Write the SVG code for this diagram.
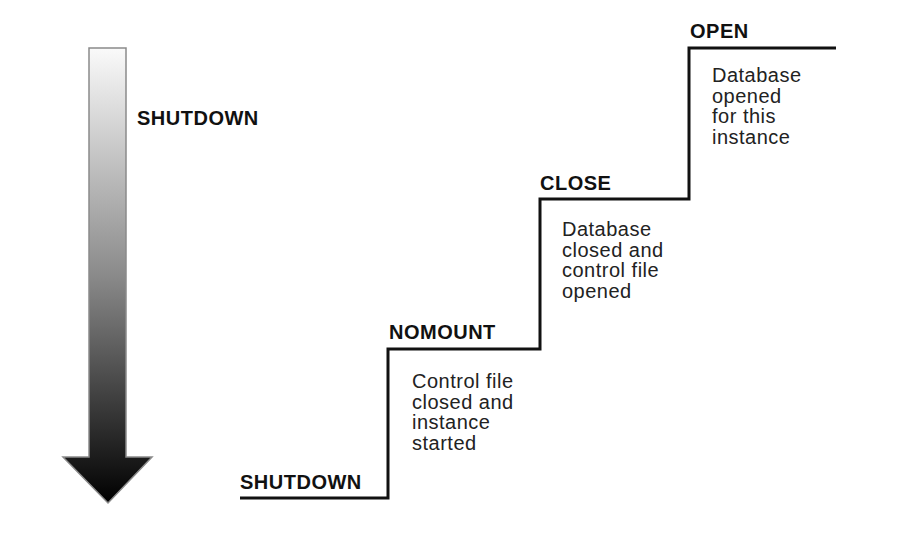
<svg xmlns="http://www.w3.org/2000/svg" width="898" height="542" viewBox="0 0 898 542">
<defs>
<linearGradient id="g" x1="0" y1="0" x2="0" y2="1">
<stop offset="0" stop-color="#fafafa"/>
<stop offset="0.5" stop-color="#8a8a8a"/>
<stop offset="1" stop-color="#000"/>
</linearGradient>
<style>
.lbl{font-family:"Liberation Sans",Arial,sans-serif;font-weight:bold;font-size:20px;letter-spacing:0.5px;fill:#111}
.dsc{font-family:"Liberation Sans",Arial,sans-serif;font-size:20px;letter-spacing:0.5px;fill:#222}
.step{fill:none;stroke:#111;stroke-width:3}
</style>
</defs>
<rect width="898" height="542" fill="#fff"/>
<g id="arrow">
<polygon points="89,48 126,48 126,457 152,457 108,503 63,457 89,457" fill="url(#g)" stroke="#8a8a8a" stroke-width="1.5"/>
<text class="lbl" x="137" y="125">SHUTDOWN</text>
</g>
<g id="connectors">
<polyline class="step" points="240,498 388,498 388,349 540,349 540,199 689,199 689,48 836,48"/>
</g>
<g id="shutdown">
<text class="lbl" x="240" y="489">SHUTDOWN</text>
</g>
<g id="nomount">
<text class="lbl" x="389" y="339">NOMOUNT</text>
<text class="dsc" x="412" y="388">Control file</text>
<text class="dsc" x="412" y="408.5">closed and</text>
<text class="dsc" x="412" y="429">instance</text>
<text class="dsc" x="412" y="449.5">started</text>
</g>
<g id="close">
<text class="lbl" x="540" y="190">CLOSE</text>
<text class="dsc" x="562" y="236">Database</text>
<text class="dsc" x="562" y="256.5">closed and</text>
<text class="dsc" x="562" y="277">control file</text>
<text class="dsc" x="562" y="297.5">opened</text>
</g>
<g id="open">
<text class="lbl" x="690" y="38">OPEN</text>
<text class="dsc" x="712" y="82">Database</text>
<text class="dsc" x="712" y="102.5">opened</text>
<text class="dsc" x="712" y="123">for this</text>
<text class="dsc" x="712" y="143.5">instance</text>
</g>
</svg>
